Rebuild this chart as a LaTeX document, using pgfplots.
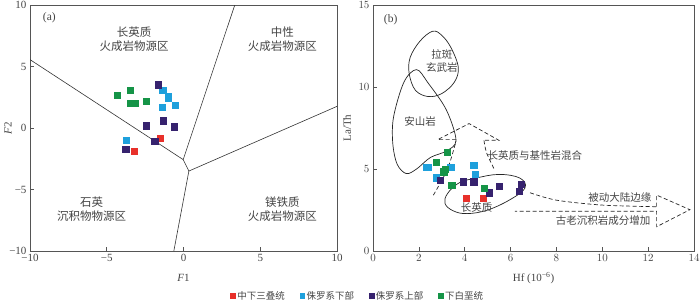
\documentclass[border=0pt]{standalone}
\usepackage{pgfplots}
\pgfplotsset{compat=1.18}
\usepackage{fontspec}
\setmainfont{Liberation Serif}
\newfontfamily\cjk{Noto Sans CJK SC}
\definecolor{cred}{HTML}{E8302A}
\definecolor{ccyan}{HTML}{1EA0DC}
\definecolor{cpurp}{HTML}{36226E}
\definecolor{cgreen}{HTML}{159447}
\definecolor{txt}{HTML}{444444}
\definecolor{axl}{HTML}{555555}
\begin{document}
\begin{tikzpicture}
\useasboundingbox (0,0) rectangle (700pt,301pt);
\pgfplotsset{
  myax/.style={
    scale only axis,
    axis line style={axl, line width=0.7pt},
    tick style={axl, line width=0.6pt},
    tick align=inside,
    xtick pos=bottom, ytick pos=left,
    major tick length=4pt,
    tick label style={font=\fontsize{11}{12}\selectfont, text=txt},
    label style={font=\fontsize{11}{12}\selectfont, text=txt},
    clip=true,
  },
  pts/.style={only marks, mark=square*, mark size=3.1pt, mark options={draw=#1, fill=#1}},
}
% ---------- (a) ----------
\begin{axis}[myax,
  at={(30pt,50pt)}, anchor=south west,
  width=307pt, height=246pt,
  xmin=-10, xmax=10, ymin=-10, ymax=10,
  xtick={-10,-5,0,5,10}, xticklabels={−10,−5,0,5,10},
  ytick={-10,-5,0,5,10}, yticklabels={−10,−5,0,5,10},
  xlabel={\textit{F}1}, ylabel={\textit{F}2},
  xlabel style={at={(axis description cs:0.5,-0.11)}, anchor=center},
  ylabel style={at={(axis description cs:-0.072,0.5)}, anchor=center},
  legend columns=4,
  legend style={draw=none, fill=none, at={(1.068,-0.183)}, anchor=center,
    font=\cjk\fontsize{9.5}{10}\selectfont, text=txt,
    /tikz/every even column/.append style={column sep=13pt}},
  legend image post style={mark size=2.4pt},
]
\addplot[pts=cred] coordinates {(-1.50,-0.86) (-3.21,-1.87)};
\addlegendentry{中下三叠统}
\addplot[pts=ccyan] coordinates {(-1.35,3.06) (-0.98,2.6) (-0.98,2.41) (-1.37,1.71) (-0.52,1.87) (-3.71,-1.0)};
\addlegendentry{侏罗系下部}
\addplot[pts=cpurp] coordinates {(-1.65,3.52) (-1.30,0.59) (-2.43,0.18) (-0.59,0.11) (-1.87,-1.08) (-3.77,-1.71)};
\addlegendentry{侏罗系上部}
\addplot[pts=cgreen] coordinates {(-4.32,2.68) (-3.49,3.09) (-3.45,2.0) (-3.17,2.0) (-2.43,2.2)};
\addlegendentry{下白垩统}
\draw[black!80, line width=0.6pt] (-10,5.56) -- (-0.02,-2.57) -- (3.34,10);
\draw[black!80, line width=0.6pt] (-0.02,-2.57) -- (0.35,-3.5) -- (10,1.76);
\draw[black!80, line width=0.6pt] (0.35,-3.5) -- (-0.63,-10);
\begin{scope}[every node/.style={font=\cjk\fontsize{11.5}{14}\selectfont, text=txt, align=center}]
\node at (-3.21,7.26) {长英质\\火成岩物源区};
\node at (6.44,7.26) {中性\\火成岩物源区};
\node at (-5.99,-6.56) {石英\\沉积物物源区};
\node at (6.44,-6.56) {镁铁质\\火成岩物源区};
\end{scope}
\node[font=\fontsize{11.5}{12}\selectfont, text=txt] at (-8.74,9.0) {(a)};
\end{axis}
% ---------- (b) ----------
\begin{axis}[myax,
  at={(373pt,50pt)}, anchor=south west,
  width=321pt, height=246pt,
  xmin=0, xmax=14, ymin=0, ymax=15,
  xtick={0,2,...,14}, ytick={0,5,10,15},
  xlabel={Hf (10\textsuperscript{−6})}, ylabel={La/Th},
  xlabel style={at={(axis description cs:0.5,-0.11)}, anchor=center},
  ylabel style={at={(axis description cs:-0.081,0.5)}, anchor=center},
]
\addplot[pts=cred] coordinates {(4.07,3.2) (4.81,3.2)};
\addplot[pts=ccyan] coordinates {(2.33,5.12) (2.41,5.12) (2.75,4.47) (3.39,5.12) (4.39,5.21) (4.45,4.68)};
\addplot[pts=cpurp] coordinates {(2.92,4.31) (3.92,4.23) (4.39,4.23) (5.06,3.56) (5.49,3.97) (6.37,3.64) (6.48,4.09)};
\addplot[pts=cgreen] coordinates {(3.24,6.04) (2.75,5.43) (3.08,4.84) (3.15,4.98) (3.43,4.0) (4.84,3.84)};
\begin{scope}[black!85, line width=0.7pt]
\draw plot[smooth cycle, tension=0.6] coordinates {(2.6,13.4) (3.0,13.15) (3.4,12.4) (3.72,11.2) (3.55,10.3) (3.0,9.6) (2.4,9.42) (1.85,9.8) (1.58,10.8) (1.62,11.8) (2.05,12.8)};
\draw plot[smooth cycle, tension=0.55] coordinates {(1.90,11.06) (2.4,10.25) (3.2,8.6) (3.62,6.75) (3.2,6.1) (2.5,5.7) (1.9,5.0) (1.45,4.72) (1.05,5.3) (0.86,6.6) (0.9,8.2) (1.35,10.3)};
\draw plot[smooth cycle, tension=0.65] coordinates {(3.14,2.9) (3.5,2.45) (4.1,2.28) (5.0,2.5) (6.0,3.15) (6.63,3.85) (6.4,4.45) (5.5,4.67) (4.5,4.45) (3.75,4.15) (3.25,3.5)};
\end{scope}
\begin{scope}[black!85, line width=0.7pt, dash pattern=on 4pt off 2.5pt]
\draw plot[smooth, tension=0.5] coordinates {(2.63,3.4) (3.25,5.0) (3.62,6.7)};
\draw (3.62,6.79) -- (2.82,6.79) -- (4.19,7.77) -- (5.49,6.75) -- (4.84,6.75);
\draw plot[smooth, tension=0.5] coordinates {(4.84,6.75) (4.95,6.0) (5.3,4.95)};
\draw plot[smooth, tension=0.5] coordinates {(6.85,3.55) (8.0,3.1) (10.0,2.8) (12.37,2.70)};
\draw (12.37,2.70) -- (12.37,3.41) -- (13.82,2.52) -- (12.37,1.48) -- (12.37,2.43) -- (6.19,2.43);
\end{scope}
\begin{scope}[every node/.style={font=\cjk\fontsize{10.5}{13}\selectfont, text=txt, align=center}]
\node at (3.0,11.6) {拉斑\\玄武岩};
\node at (2.06,7.9) {安山岩};
\node at (7.06,5.85) {长英质与基性岩混合};
\node at (4.52,2.64) {长英质};
\node[fill=white, inner sep=1pt] at (10.77,3.29) {被动大陆边缘};
\node[fill=white, inner sep=1pt] at (10.04,1.83) {古老沉积岩成分增加};
\end{scope}
\node[font=\fontsize{11.5}{12}\selectfont, text=txt] at (0.77,14.1) {(b)};
\end{axis}
\end{tikzpicture}
\end{document}
